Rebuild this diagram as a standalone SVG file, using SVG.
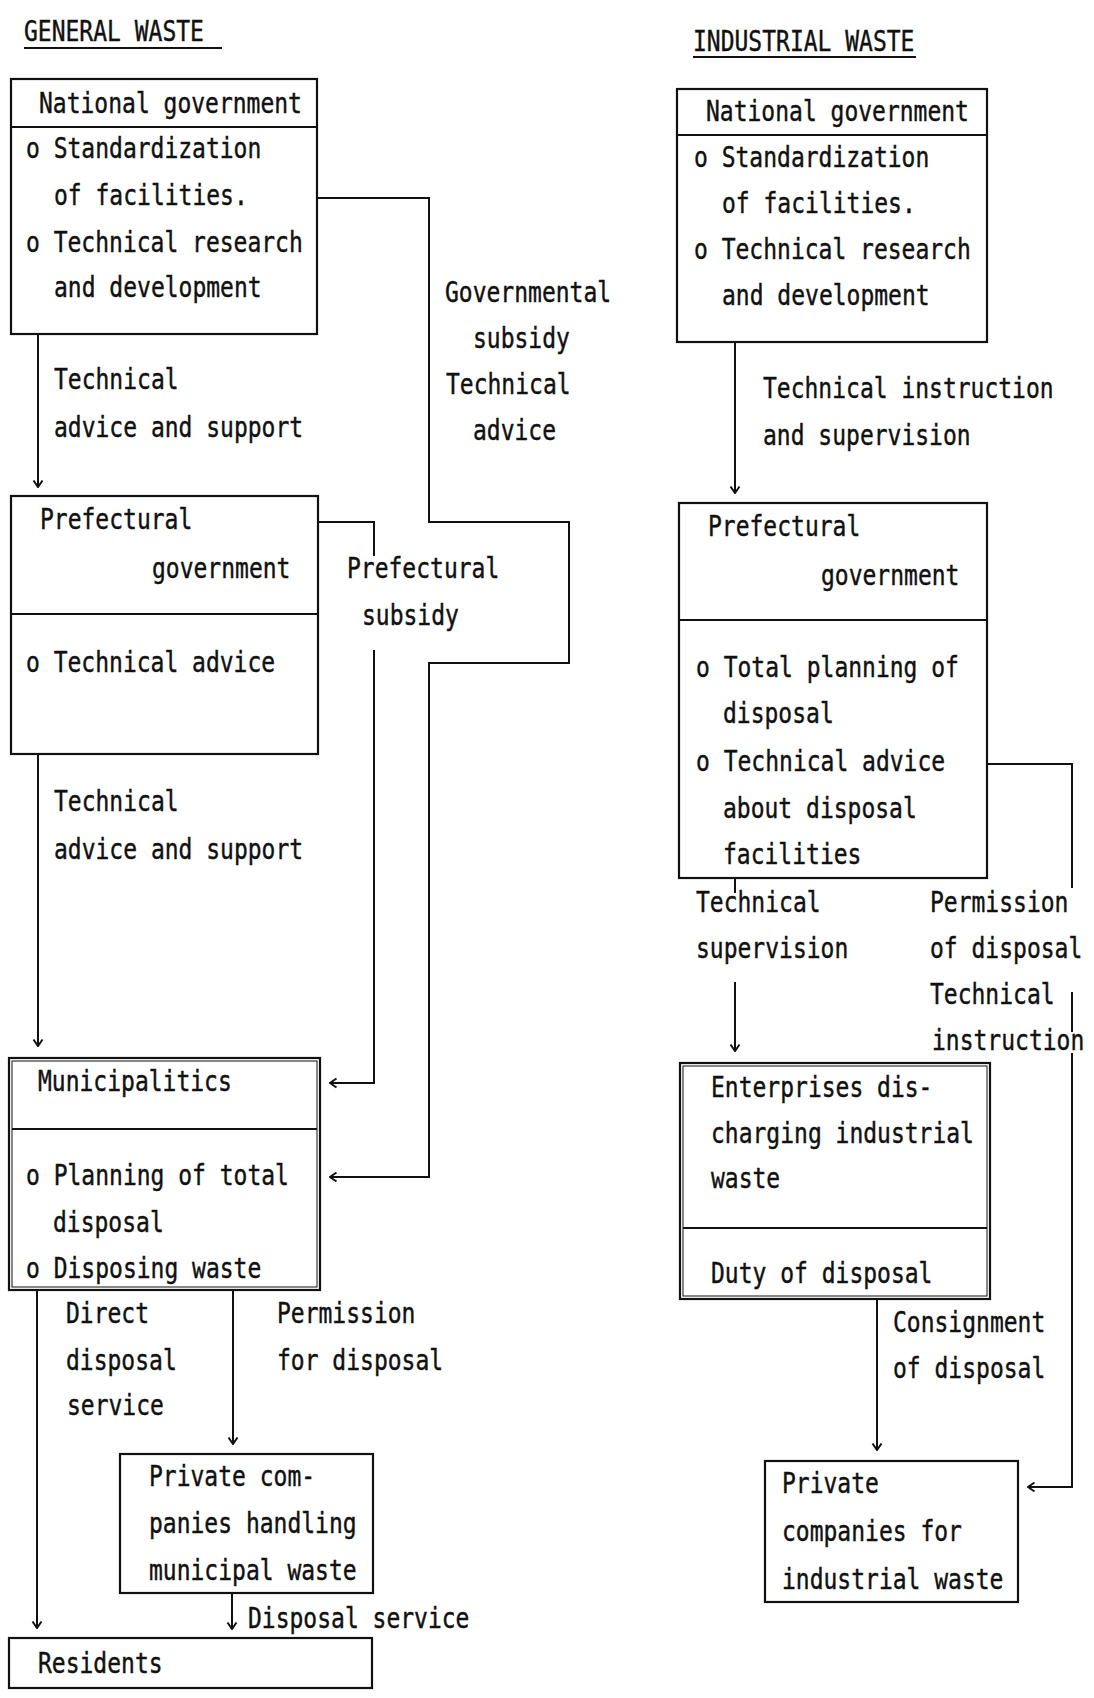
<svg xmlns="http://www.w3.org/2000/svg" width="1094" height="1698" viewBox="0 0 1094 1698">
  <style>
    .t { font-family: "DejaVu Sans Mono", "Liberation Mono", monospace; font-size: 23px; fill: #111; stroke: #111; stroke-width: 0.35; }
    .box { fill: none; stroke: #111; stroke-width: 2.2; }
    .inner { fill: none; stroke: #111; stroke-width: 1; }
    .div { stroke: #111; stroke-width: 2; }
    .ln { fill: none; stroke: #111; stroke-width: 2; }
    .arr { fill: none; stroke: #111; stroke-width: 2; marker-end: url(#head); }
  </style>
  <defs>
    <marker id="head" viewBox="-8 -6 9 12" markerWidth="9" markerHeight="12" refX="0" refY="0" orient="auto" markerUnits="userSpaceOnUse">
      <path d="M-6.5,-4.5 L0,0 L-6.5,4.5" fill="none" stroke="#111" stroke-width="2"/>
    </marker>
  </defs>
  <rect width="1094" height="1698" fill="#fff"/>

  <!-- column headings -->
  <g id="heading-general">
    <text class="t" transform="translate(24 41) scale(1 1.2)">GENERAL WASTE</text>
    <line class="ln" x1="24" y1="48" x2="222" y2="48"/>
  </g>
  <g id="heading-industrial">
    <text class="t" transform="translate(693 51) scale(1 1.2)">INDUSTRIAL WASTE</text>
    <line class="ln" x1="693" y1="57" x2="916" y2="57"/>
  </g>

  <!-- general waste column -->
  <g id="gw-national">
    <rect class="box" x="11" y="79" width="306" height="255"/>
    <line class="div" x1="11" y1="127" x2="317" y2="127"/>
    <text class="t" transform="translate(39 113) scale(1 1.2)">National government</text>
    <text class="t" transform="translate(26 158) scale(1 1.2)">o Standardization</text>
    <text class="t" transform="translate(54 205) scale(1 1.2)">of facilities.</text>
    <text class="t" transform="translate(26 252) scale(1 1.2)">o Technical research</text>
    <text class="t" transform="translate(54 297) scale(1 1.2)">and development</text>
  </g>

  <g id="gw-prefectural">
    <rect class="box" x="11" y="496" width="307" height="258"/>
    <line class="div" x1="11" y1="614" x2="318" y2="614"/>
    <text class="t" transform="translate(40 529) scale(1 1.2)">Prefectural</text>
    <text class="t" transform="translate(152 578) scale(1 1.2)">government</text>
    <text class="t" transform="translate(26 672) scale(1 1.2)">o Technical advice</text>
  </g>

  <g id="gw-municipalities">
    <rect class="box" x="9" y="1058" width="311" height="232" stroke-width="3"/>
    <rect class="inner" x="12" y="1061" width="305" height="226"/>
    <line class="div" x1="12" y1="1129" x2="317" y2="1129"/>
    <text class="t" transform="translate(38 1091) scale(1 1.2)">Municipalitics</text>
    <text class="t" transform="translate(26 1185) scale(1 1.2)">o Planning of total</text>
    <text class="t" transform="translate(53 1232) scale(1 1.2)">disposal</text>
    <text class="t" transform="translate(26 1278) scale(1 1.2)">o Disposing waste</text>
  </g>

  <g id="gw-private">
    <rect class="box" x="120" y="1454" width="253" height="139"/>
    <text class="t" transform="translate(149 1486) scale(1 1.2)">Private com-</text>
    <text class="t" transform="translate(149 1533) scale(1 1.2)">panies handling</text>
    <text class="t" transform="translate(149 1580) scale(1 1.2)">municipal waste</text>
  </g>

  <g id="gw-residents">
    <rect class="box" x="9" y="1638" width="363" height="50"/>
    <text class="t" transform="translate(38 1673) scale(1 1.2)">Residents</text>
  </g>

  <!-- industrial waste column -->
  <g id="iw-national">
    <rect class="box" x="677" y="89" width="310" height="253"/>
    <line class="div" x1="677" y1="135" x2="987" y2="135"/>
    <text class="t" transform="translate(706 121) scale(1 1.2)">National government</text>
    <text class="t" transform="translate(694 167) scale(1 1.2)">o Standardization</text>
    <text class="t" transform="translate(722 213) scale(1 1.2)">of facilities.</text>
    <text class="t" transform="translate(694 259) scale(1 1.2)">o Technical research</text>
    <text class="t" transform="translate(722 305) scale(1 1.2)">and development</text>
  </g>

  <g id="iw-prefectural">
    <rect class="box" x="679" y="503" width="308" height="375"/>
    <line class="div" x1="679" y1="620" x2="987" y2="620"/>
    <text class="t" transform="translate(708 536) scale(1 1.2)">Prefectural</text>
    <text class="t" transform="translate(821 585) scale(1 1.2)">government</text>
    <text class="t" transform="translate(696 677) scale(1 1.2)">o Total planning of</text>
    <text class="t" transform="translate(723 723) scale(1 1.2)">disposal</text>
    <text class="t" transform="translate(696 771) scale(1 1.2)">o Technical advice</text>
    <text class="t" transform="translate(723 818) scale(1 1.2)">about disposal</text>
    <text class="t" transform="translate(723 864) scale(1 1.2)">facilities</text>
  </g>

  <g id="iw-enterprises">
    <rect class="box" x="680" y="1063" width="310" height="236" stroke-width="3"/>
    <rect class="inner" x="683" y="1066" width="304" height="230"/>
    <line class="div" x1="683" y1="1228" x2="987" y2="1228"/>
    <text class="t" transform="translate(711 1097) scale(1 1.2)">Enterprises dis-</text>
    <text class="t" transform="translate(711 1143) scale(1 1.2)">charging industrial</text>
    <text class="t" transform="translate(711 1188) scale(1 1.2)">waste</text>
    <text class="t" transform="translate(711 1283) scale(1 1.2)">Duty of disposal</text>
  </g>

  <g id="iw-private">
    <rect class="box" x="765" y="1461" width="253" height="141"/>
    <text class="t" transform="translate(782 1493) scale(1 1.2)">Private</text>
    <text class="t" transform="translate(782 1541) scale(1 1.2)">companies for</text>
    <text class="t" transform="translate(782 1589) scale(1 1.2)">industrial waste</text>
  </g>

  <!-- connectors and their labels -->
  <g id="connectors">
    <!-- general waste -->
    <path class="arr" d="M38,334 V487"/>
    <path class="arr" d="M317,198 H429 V522 H569 V663 H429 V1177 H330"/>
    <path class="ln" d="M318,522 H374 V556"/>
    <path class="arr" d="M374,650 V1083 H330"/>
    <path class="arr" d="M38,754 V1046"/>
    <path class="arr" d="M37,1290 V1628"/>
    <path class="arr" d="M233,1290 V1444"/>
    <path class="arr" d="M232,1593 V1629"/>

    <!-- industrial waste -->
    <path class="arr" d="M735,342 V493"/>
    <path class="ln" d="M735,878 V893"/>
    <path class="arr" d="M735,982 V1051"/>
    <path class="ln" d="M987,764 H1072 V888"/>
    <path class="ln" d="M1072,992 V1032"/>
    <path class="arr" d="M1072,1053 V1487 H1028"/>
    <path class="arr" d="M877,1299 V1450"/>

    <g id="labels">
      <text class="t" transform="translate(54 389) scale(1 1.2)">Technical</text>
      <text class="t" transform="translate(54 437) scale(1 1.2)">advice and support</text>
      <text class="t" transform="translate(445 302) scale(1 1.2)">Governmental</text>
      <text class="t" transform="translate(473 348) scale(1 1.2)">subsidy</text>
      <text class="t" transform="translate(446 394) scale(1 1.2)">Technical</text>
      <text class="t" transform="translate(473 440) scale(1 1.2)">advice</text>
      <text class="t" transform="translate(347 578) scale(1 1.2)">Prefectural</text>
      <text class="t" transform="translate(362 625) scale(1 1.2)">subsidy</text>
      <text class="t" transform="translate(54 811) scale(1 1.2)">Technical</text>
      <text class="t" transform="translate(54 859) scale(1 1.2)">advice and support</text>
      <text class="t" transform="translate(66 1323) scale(1 1.2)">Direct</text>
      <text class="t" transform="translate(66 1370) scale(1 1.2)">disposal</text>
      <text class="t" transform="translate(67 1415) scale(1 1.2)">service</text>
      <text class="t" transform="translate(277 1323) scale(1 1.2)">Permission</text>
      <text class="t" transform="translate(277 1370) scale(1 1.2)">for disposal</text>
      <text class="t" transform="translate(248 1628) scale(1 1.2)">Disposal service</text>

      <text class="t" transform="translate(763 398) scale(1 1.2)">Technical instruction</text>
      <text class="t" transform="translate(763 445) scale(1 1.2)">and supervision</text>
      <text class="t" transform="translate(696 912) scale(1 1.2)">Technical</text>
      <text class="t" transform="translate(696 958) scale(1 1.2)">supervision</text>
      <text class="t" transform="translate(930 912) scale(1 1.2)">Permission</text>
      <text class="t" transform="translate(930 958) scale(1 1.2)">of disposal</text>
      <text class="t" transform="translate(930 1004) scale(1 1.2)">Technical</text>
      <text class="t" transform="translate(932 1050) scale(1 1.2)">instruction</text>
      <text class="t" transform="translate(893 1332) scale(1 1.2)">Consignment</text>
      <text class="t" transform="translate(893 1378) scale(1 1.2)">of disposal</text>
    </g>
  </g>
</svg>
